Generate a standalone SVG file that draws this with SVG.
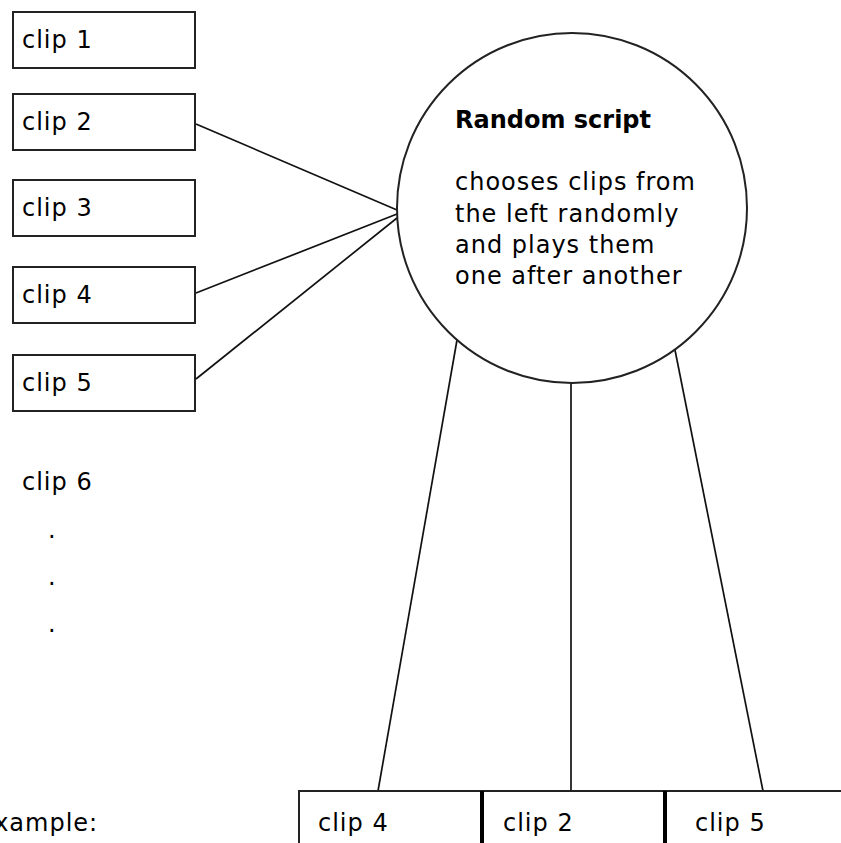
<svg xmlns="http://www.w3.org/2000/svg" width="841" height="843" viewBox="0 0 841 843">
  <style>
    .box { fill: #fff; stroke: #222; stroke-width: 2; }
    .wire { stroke: #111; stroke-width: 1.7; fill: none; }
    .lbl { font-family: "DejaVu Sans", "Liberation Sans", sans-serif; font-size: 24px; letter-spacing: 1px; fill: #000; }
    .bold { font-weight: bold; letter-spacing: 0; }
    .sep { stroke: #000; stroke-width: 4; }
  </style>
  <rect width="841" height="843" fill="#fff"/>

  <!-- connectors -->
  <g id="connectors">
    <line class="wire" x1="196" y1="124" x2="397" y2="210"/>
    <line class="wire" x1="196" y1="293" x2="397" y2="214"/>
    <line class="wire" x1="196" y1="379" x2="397" y2="218"/>
    <line class="wire" x1="457" y1="340" x2="378" y2="791"/>
    <line class="wire" x1="571" y1="383" x2="571" y2="791"/>
    <line class="wire" x1="675" y1="350" x2="763" y2="791"/>
  </g>

  <!-- source clips -->
  <g id="clip1"><rect class="box" x="13" y="12" width="182" height="56"/><text class="lbl" x="22" y="48">clip 1</text></g>
  <g id="clip2"><rect class="box" x="13" y="94" width="182" height="56"/><text class="lbl" x="22" y="130">clip 2</text></g>
  <g id="clip3"><rect class="box" x="13" y="180" width="182" height="56"/><text class="lbl" x="22" y="216">clip 3</text></g>
  <g id="clip4"><rect class="box" x="13" y="267" width="182" height="56"/><text class="lbl" x="22" y="303">clip 4</text></g>
  <g id="clip5"><rect class="box" x="13" y="355" width="182" height="56"/><text class="lbl" x="22" y="391">clip 5</text></g>

  <g id="clip6"><text class="lbl" x="22" y="490">clip 6</text></g>
  <g id="more">
    <text class="lbl" x="48" y="538">.</text>
    <text class="lbl" x="48" y="585">.</text>
    <text class="lbl" x="48" y="632">.</text>
  </g>

  <!-- random script -->
  <g id="random-script">
    <circle class="box" cx="572" cy="208" r="175" stroke-width="1.7"/>
    <text class="lbl bold" x="455" y="128">Random script</text>
    <text class="lbl" x="455" y="190">chooses clips from</text>
    <text class="lbl" x="455" y="222">the left randomly</text>
    <text class="lbl" x="455" y="253">and plays them</text>
    <text class="lbl" x="455" y="284">one after another</text>
  </g>

  <!-- example sequence -->
  <g id="example">
    <text class="lbl" x="-22" y="831">Example:</text>
    <path class="box" d="M299 843 V791 H841"/>
    <line class="sep" x1="482" y1="791" x2="482" y2="843"/>
    <line class="sep" x1="665" y1="791" x2="665" y2="843"/>
    <text class="lbl" x="318" y="831">clip 4</text>
    <text class="lbl" x="503" y="831">clip 2</text>
    <text class="lbl" x="695" y="831">clip 5</text>
  </g>
</svg>
